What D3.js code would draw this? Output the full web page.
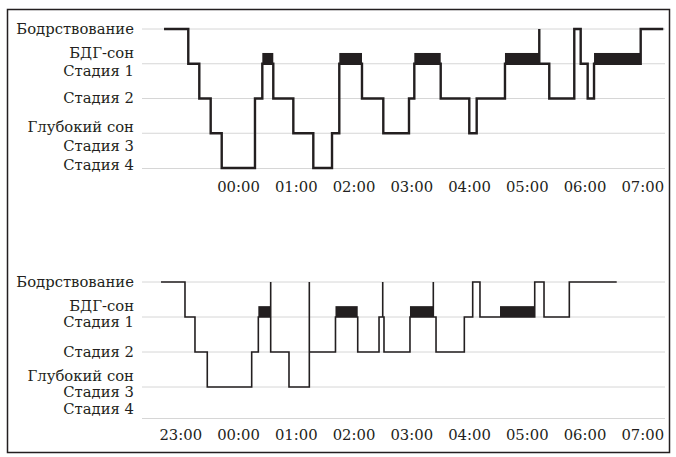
<!DOCTYPE html>
<html>
<head>
<meta charset="utf-8">
<script src="https://cdn.jsdelivr.net/npm/d3@7"></script>
<style>
  body { margin: 0; background: #fff; }
  svg { display: block; }
  text { font-family: "DejaVu Serif", "Liberation Serif", serif; fill: #231f20; }
  .stage-label { font-size: 14.8px; }
  .tick text { font-size: 14.8px; }
</style>
</head>
<body>
<div id="container"></div>
<script>
// stage names shown on the left, top to bottom
const stageLabels = ["Бодрствование", "БДГ-сон", "Стадия 1", "Стадия 2", "Глубокий сон", "Стадия 3", "Стадия 4"];

// hours relative to midnight (negative = before midnight)
const topHours = [0, 1, 2, 3, 4, 5, 6, 7];
const topTickLabels = ["00:00", "01:00", "02:00", "03:00", "04:00", "05:00", "06:00", "07:00"];
const bottomHours = [-1, 0, 1, 2, 3, 4, 5, 6, 7];
const bottomTickLabels = ["23:00", "00:00", "01:00", "02:00", "03:00", "04:00", "05:00", "06:00", "07:00"];

// night 1: start of each episode (hours) and the stage of that episode
const nightOneStart = [-1.281, -0.861, -0.670, -0.473, -0.282, 0.294, 0.421, 0.611, 0.958, 1.304,
                       1.628, 1.754, 2.147, 2.516, 2.961, 3.053, 3.510, 4.005, 4.133, 4.623,
                       5.217, 5.217, 5.390, 5.823, 5.934, 6.055, 6.165, 6.973];
const nightOneStage = ["W", "1", "2", "3", "4", "2", "R", "2", "3", "4",
                       "3", "R", "2", "3", "2", "R", "2", "3", "2", "R",
                       "W", "1", "2", "W", "1", "2", "R", "W"];
const nightOneEnd = 7.364;

// night 2
const nightTwoStart = [-1.333, -0.918, -0.745, -0.532, 0.237, 0.352, 0.566, 0.566, 0.883, 1.235,
                       1.235, 1.688, 2.073, 2.442, 2.506, 2.506, 2.528, 2.978, 3.382, 3.382,
                       3.429, 3.919, 4.064, 4.190, 4.537, 5.138, 5.299, 5.737];
const nightTwoStage = ["W", "1", "2", "3", "2", "R", "W", "2", "3", "W",
                       "2", "R", "2", "1", "W", "1", "2", "R", "W", "1",
                       "2", "1", "W", "1", "R", "W", "1", "W"];
const nightTwoEnd = 6.558;

// depth of each stage on the y axis (REM is drawn on the stage 1 line with a block above it)
const stageDepth = {W: 0, R: 1, "1": 1, "2": 2, "3": 3, "4": 4};
const remBlock = 0.31;

const w = 676, h = 457;
const ink = "#231f20";

const svg = d3.select("#container").append("svg")
  .attr("width", w).attr("height", h);

svg.append("rect")
  .attr("x", 7.5).attr("y", 9.5)
  .attr("width", 662).attr("height", 443)
  .attr("fill", "none").attr("stroke", ink).attr("stroke-width", 1.5);

const xScale = d3.scaleLinear().domain([-1, 7]).range([180.25, 642.25]);

function drawNight(cfg) {
  const y = d3.scaleLinear().domain([0, 1]).range([cfg.y0, cfg.y0 + cfg.step]);
  const g = svg.append("g");

  // grid lines
  g.selectAll("line.grid")
    .data(cfg.gridLevels)
    .enter().append("line")
    .attr("class", "grid")
    .attr("x1", 142).attr("x2", 665)
    .attr("y1", d => y(d)).attr("y2", d => y(d))
    .attr("stroke", "#d6d6d6").attr("stroke-width", 1);
  g.append("line")
    .attr("x1", 142).attr("x2", 665)
    .attr("y1", cfg.baseline).attr("y2", cfg.baseline)
    .attr("stroke", "#d6d6d6").attr("stroke-width", 1);

  // stage labels
  g.selectAll("text.stage-label")
    .data(stageLabels)
    .enter().append("text")
    .attr("class", "stage-label")
    .attr("x", 134)
    .attr("y", (d, i) => y(cfg.labelLevels[i]))
    .attr("dy", "0.35em")
    .attr("text-anchor", "end")
    .text(d => d);

  const episodes = cfg.start.map((t, i) => ({
    t0: t,
    t1: i < cfg.start.length - 1 ? cfg.start[i + 1] : cfg.end,
    stage: cfg.stage[i]
  }));

  // REM blocks
  g.selectAll("rect.rem")
    .data(episodes.filter(e => e.stage === "R"))
    .enter().append("rect")
    .attr("class", "rem")
    .attr("x", e => xScale(e.t0))
    .attr("width", e => xScale(e.t1) - xScale(e.t0))
    .attr("y", y(1 - remBlock))
    .attr("height", y(1) - y(1 - remBlock))
    .attr("fill", ink);

  const pts = episodes.map(e => [e.t0, stageDepth[e.stage]]);
  pts.push([cfg.end, stageDepth[cfg.stage[cfg.stage.length - 1]]]);

  const line = d3.line()
    .x(d => xScale(d[0]))
    .y(d => y(d[1]))
    .curve(d3.curveStepAfter);

  g.append("path")
    .attr("d", line(pts))
    .attr("fill", "none")
    .attr("stroke", ink)
    .attr("stroke-width", cfg.lineWidth);

  // time axis
  const axis = d3.axisBottom(xScale)
    .tickValues(cfg.hours)
    .tickFormat((d, i) => cfg.tickLabels[i])
    .tickSize(0)
    .tickPadding(0);
  const ax = g.append("g")
    .attr("transform", "translate(0," + cfg.axisY + ")")
    .call(axis);
  ax.select(".domain").remove();
  ax.selectAll("text").attr("dy", "0.35em").attr("font-family", null).attr("font-size", null);
}

drawNight({
  y0: 29, step: 34.75, baseline: 168.5, axisY: 187,
  gridLevels: [0, 1, 2, 3],
  labelLevels: [0, 0.69, 1.21, 1.97, 2.81, 3.36, 3.91],
  start: nightOneStart, stage: nightOneStage, end: nightOneEnd,
  hours: topHours, tickLabels: topTickLabels,
  lineWidth: 2.4
});

drawNight({
  y0: 282, step: 35, baseline: 418.5, axisY: 435,
  gridLevels: [0, 1, 2, 3],
  labelLevels: [0, 0.68, 1.15, 1.99, 2.69, 3.15, 3.63],
  start: nightTwoStart, stage: nightTwoStage, end: nightTwoEnd,
  hours: bottomHours, tickLabels: bottomTickLabels,
  lineWidth: 1.6
});
</script>
</body>
</html>
